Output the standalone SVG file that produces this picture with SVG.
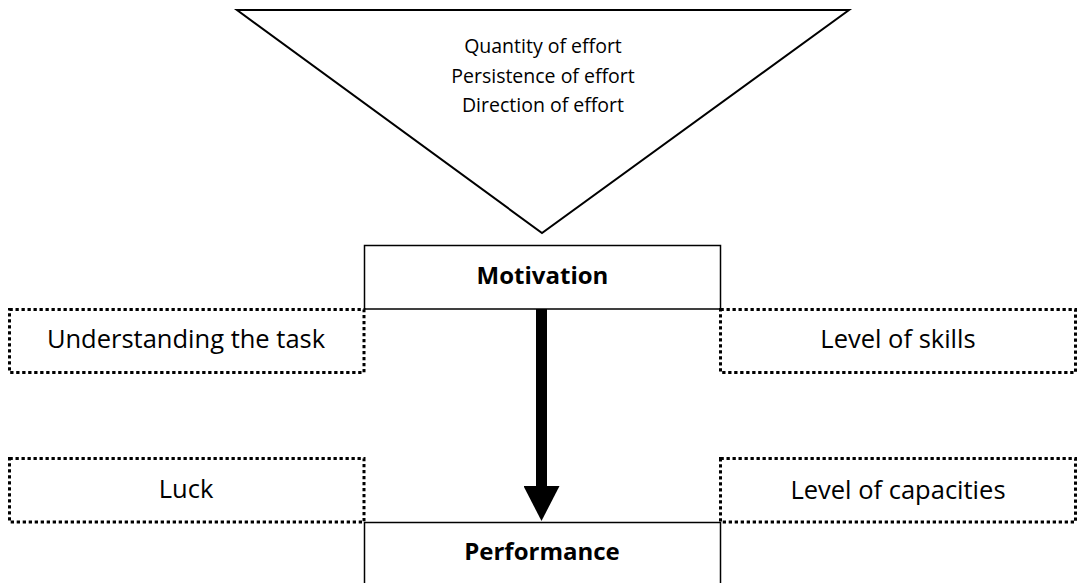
<svg xmlns="http://www.w3.org/2000/svg" width="1078" height="583" viewBox="0 0 1078 583">
  <style>
    .solid { fill: #ffffff; stroke: #000000; stroke-width: 1.5; }
    .dotted { fill: none; stroke: #000000; stroke-width: 3; stroke-dasharray: 3.3 2.7; }
    .label { font-family: "Open Sans", "Liberation Sans", sans-serif; font-size: 25.5px; fill: #000000; text-anchor: middle; }
    .title { font-family: "Open Sans", "Liberation Sans", sans-serif; font-size: 24px; font-weight: bold; fill: #000000; text-anchor: middle; }
    .small { font-family: "Open Sans", "Liberation Sans", sans-serif; font-size: 19.5px; fill: #000000; text-anchor: middle; }
  </style>
  <defs>
    <marker id="head" markerUnits="userSpaceOnUse" markerWidth="36" markerHeight="36" refX="0" refY="18" orient="auto" viewBox="0 0 35 36">
      <path d="M0,0 L35,18 L0,36 Z" fill="#000000"/>
    </marker>
  </defs>
  <rect width="1078" height="583" fill="#ffffff"/>

  <!-- effort funnel -->
  <g id="effort">
    <polygon points="237,10 849,10 542,233" fill="#ffffff" stroke="#000000" stroke-width="2"/>
    <text class="small" x="543" y="53">Quantity of effort</text>
    <text class="small" x="543" y="83">Persistence of effort</text>
    <text class="small" x="543" y="112">Direction of effort</text>
  </g>

  <!-- connectors -->
  <g id="connectors">
    <line x1="541.5" y1="309" x2="541.5" y2="486" stroke="#000000" stroke-width="11" marker-end="url(#head)"/>
  </g>

  <g id="motivation">
    <rect class="solid" x="364.5" y="245.5" width="356" height="63.5"/>
    <text class="title" x="542.5" y="284">Motivation</text>
  </g>

  <g id="performance">
    <rect class="solid" x="364.5" y="522.5" width="356" height="70"/>
    <text class="title" x="542" y="560">Performance</text>
  </g>

  <g id="understanding">
    <rect class="dotted" x="9.5" y="309.5" width="354.5" height="63"/>
    <text class="label" x="186" y="348">Understanding the task</text>
  </g>

  <g id="skills">
    <rect class="dotted" x="720.5" y="309.5" width="355" height="63"/>
    <text class="label" x="898" y="348">Level of skills</text>
  </g>

  <g id="luck">
    <rect class="dotted" x="9.5" y="458.5" width="354.5" height="63.5"/>
    <text class="label" x="186" y="498">Luck</text>
  </g>

  <g id="capacities">
    <rect class="dotted" x="720.5" y="458.5" width="355" height="63.5"/>
    <text class="label" x="898" y="499">Level of capacities</text>
  </g>
</svg>
